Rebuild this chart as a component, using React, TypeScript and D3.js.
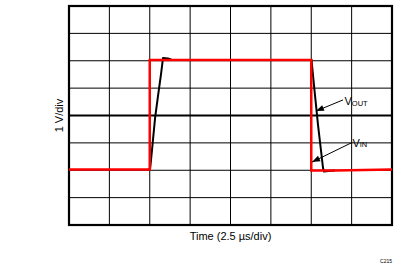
import React from "react";
import * as d3 from "d3";

// Time in µs (2.5 µs/div, 8 divisions), voltage in V (1 V/div, 8 divisions)
const vinTime = [0, 5.0, 5.0, 15.0, 15.0, 16.5, 20];
const vinVolts = [-1.97, -1.97, 2.03, 2.03, -2.01, -2.01, -1.97];

const voutTime = [4.9, 5.02, 5.14, 5.33, 5.51, 5.7, 5.82, 6.13, 6.38, 10, 15.02, 15.05, 15.23, 15.42, 15.6, 15.73, 15.79, 16.04, 16.47];
const voutVolts = [-1.97, -1.96, -1.26, -0.09, 0.71, 1.52, 2.1, 2.08, 2.03, 2.03, 2.03, 1.81, 0.75, -0.35, -1.26, -1.92, -2.05, -2.03, -2.01];

const xTicks = [0, 2.5, 5, 7.5, 10, 12.5, 15, 17.5, 20];
const yTicks = [-4, -3, -2, -1, 0, 1, 2, 3, 4];

const annotations = [
  { label: "V", sub: "OUT", fromT: 16.97, fromV: 0.57, toT: 15.29, toV: 0.16, textT: 17.06, textV: 0.38 },
  { label: "V", sub: "IN", fromT: 17.55, fromV: -0.98, toT: 15.05, toV: -1.7, textT: 17.55, textV: -1.15 },
];

export default function App() {
  const W = 406, H = 267;
  const left = 69, right = 392, top = 6, bottom = 225;
  const x = d3.scaleLinear().domain([0, 20]).range([left, right]);
  const y = d3.scaleLinear().domain([-4, 4]).range([bottom, top]);

  const line = d3.line<[number, number]>().x((d) => x(d[0])).y((d) => y(d[1]));
  const vin = line(vinTime.map((t, i) => [t, vinVolts[i]]))!;
  const vout = line(voutTime.map((t, i) => [t, voutVolts[i]]))!;

  const arrowHead = (x1: number, y1: number, x2: number, y2: number) => {
    const a = Math.atan2(y2 - y1, x2 - x1);
    const len = 8, w = 3;
    const bx = x2 - len * Math.cos(a), by = y2 - len * Math.sin(a);
    const px = -Math.sin(a) * w, py = Math.cos(a) * w;
    return `M${x2},${y2}L${bx + px},${by + py}L${bx - px},${by - py}Z`;
  };

  const font = "'Liberation Sans', Arial, sans-serif";

  return (
    <svg width={W} height={H} style={{ position: "absolute", left: 0, top: 0, background: "#fff" }} fontFamily={font}>
      {xTicks.slice(1, -1).map((t) => (
        <line key={"vx" + t} x1={x(t)} x2={x(t)} y1={top} y2={bottom} stroke="#000" strokeWidth={1} />
      ))}
      {yTicks.slice(1, -1).map((v) => (
        <line key={"hy" + v} x1={left} x2={right} y1={y(v)} y2={y(v)} stroke="#000" strokeWidth={v === 0 ? 2 : 1} />
      ))}
      <rect x={left} y={top} width={right - left} height={bottom - top} fill="none" stroke="#000" strokeWidth={2.2} />
      <path d={vout} fill="none" stroke="#000" strokeWidth={2} strokeLinejoin="round" />
      <path d={vin} fill="none" stroke="#ff0000" strokeWidth={2.5} />
      {annotations.map((a, i) => {
        const x1 = x(a.fromT), y1 = y(a.fromV), x2 = x(a.toT), y2 = y(a.toV);
        return (
          <g key={i}>
            <line x1={x1} y1={y1} x2={x2} y2={y2} stroke="#000" strokeWidth={1} />
            <path d={arrowHead(x1, y1, x2, y2)} fill="#000" />
            <text x={x(a.textT)} y={y(a.textV)} fontSize={11} fill="#000">
              {a.label}
              <tspan fontSize={7.5} dy={0.5}>{a.sub}</tspan>
            </text>
          </g>
        );
      })}
      <text x={(left + right) / 2} y={239.5} fontSize={11} textAnchor="middle" fill="#000">Time (2.5 µs/div)</text>
      <text transform={`translate(63,${(top + bottom) / 2}) rotate(-90)`} fontSize={11} textAnchor="middle" fill="#000">1 V/div</text>
      <text x={392} y={262.5} fontSize={5} textAnchor="end" fill="#000">C215</text>
    </svg>
  );
}
